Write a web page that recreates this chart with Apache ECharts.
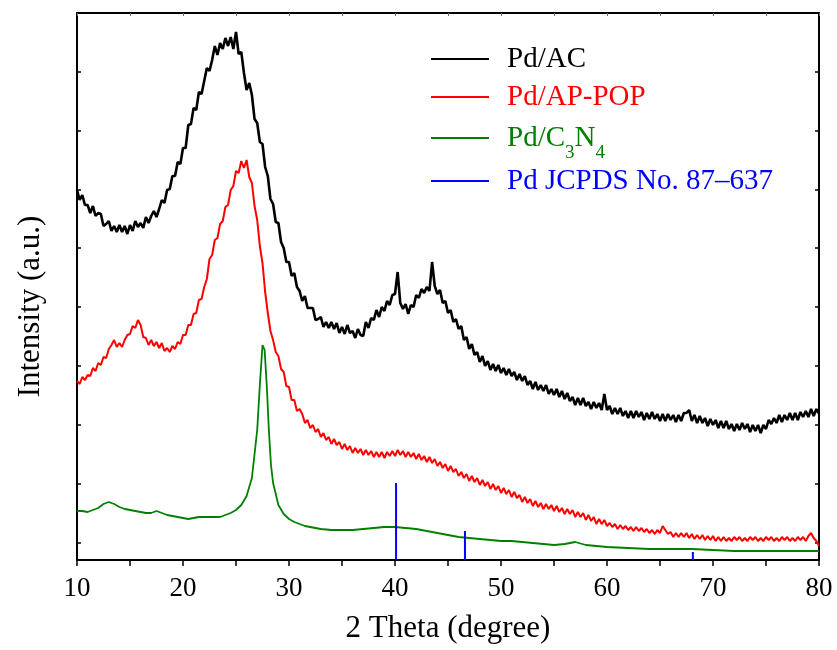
<!DOCTYPE html>
<html>
<head>
<meta charset="utf-8">
<script src="https://cdn.jsdelivr.net/npm/echarts@6/dist/echarts.min.js"></script>
<style>
  html, body { margin: 0; padding: 0; background: #fff; }
  #chart { width: 837px; height: 650px; }
</style>
</head>
<body>
<div id="chart"></div>
<script>
// XRD scans: 2 theta from 10 to 80 deg, step 0.25 deg (intensity in a.u.)
const scanStart = 10
const scanStep = 0.25

const pdAC = [
  370, 360, 365, 355, 355, 347, 354, 344, 347, 346, 334, 336, 339, 329, 334, 328,
  335, 328, 334, 326, 335, 329, 339, 333, 337, 332, 343, 337, 344, 349, 343, 351,
  360, 357, 370, 371, 384, 384, 398, 396, 412, 412, 435, 436, 452, 450, 468, 466,
  479, 492, 489, 500, 514, 505, 517, 511, 522, 514, 523, 511, 528, 506, 508, 487,
  470, 477, 465, 441, 437, 418, 416, 393, 384, 361, 356, 338, 337, 318, 312, 298,
  298, 284, 287, 273, 269, 259, 264, 252, 252, 252, 240, 241, 243, 233, 238, 232,
  238, 231, 237, 227, 233, 226, 235, 227, 229, 222, 231, 225, 224, 238, 232, 242,
  240, 250, 243, 253, 249, 259, 255, 265, 266, 288, 257, 251, 256, 246, 255, 253,
  265, 262, 271, 267, 273, 269, 298, 274, 266, 270, 257, 259, 247, 250, 238, 241,
  231, 234, 220, 223, 211, 216, 205, 208, 198, 204, 194, 199, 190, 196, 189, 195,
  187, 192, 185, 191, 184, 188, 180, 186, 179, 184, 175, 179, 171, 178, 170, 175,
  169, 175, 166, 171, 165, 171, 163, 169, 161, 167, 159, 163, 155, 162, 155, 162,
  154, 158, 151, 158, 152, 157, 150, 166, 150, 154, 146, 152, 146, 152, 144, 149,
  142, 149, 142, 149, 143, 148, 140, 147, 141, 148, 141, 146, 139, 146, 139, 146,
  140, 145, 138, 145, 139, 147, 147, 150, 139, 145, 137, 144, 137, 142, 134, 141,
  135, 140, 132, 139, 132, 139, 131, 136, 129, 136, 130, 137, 131, 136, 128, 135,
  129, 135, 127, 135, 131, 140, 136, 142, 137, 145, 138, 145, 140, 147, 140, 147,
  140, 148, 143, 149, 143, 151, 144, 151, 146
]

const pdAPPOP = [
  179, 176, 183, 180, 185, 184, 192, 189, 197, 195, 203, 202, 211, 215, 220, 213,
  217, 213, 220, 225, 226, 234, 232, 240, 235, 223, 222, 215, 220, 214, 218, 212,
  217, 209, 212, 208, 214, 211, 218, 216, 225, 225, 235, 235, 246, 247, 260, 261,
  273, 281, 301, 305, 320, 322, 336, 339, 353, 355, 370, 374, 389, 387, 399, 392,
  400, 383, 377, 354, 340, 314, 297, 268, 247, 229, 220, 208, 204, 191, 188, 174,
  173, 160, 160, 149, 151, 146, 137, 140, 132, 135, 128, 131, 123, 127, 120, 123,
  116, 121, 115, 118, 111, 116, 110, 114, 107, 112, 107, 111, 105, 110, 105, 109,
  103, 108, 103, 108, 102, 108, 104, 109, 104, 110, 105, 109, 103, 108, 103, 107,
  101, 106, 100, 104, 98, 103, 97, 101, 94, 98, 92, 96, 89, 94, 88, 91,
  84, 88, 82, 86, 79, 84, 78, 82, 75, 80, 74, 78, 71, 76, 70, 74,
  67, 72, 66, 70, 63, 68, 62, 65, 58, 63, 57, 61, 54, 59, 53, 57,
  51, 56, 51, 55, 49, 54, 48, 52, 46, 51, 46, 50, 43, 48, 43, 47,
  40, 45, 39, 43, 36, 41, 36, 40, 34, 37, 33, 36, 31, 35, 31, 34,
  30, 33, 29, 33, 29, 32, 28, 31, 27, 30, 26, 30, 27, 34, 30, 26,
  28, 23, 27, 23, 27, 23, 27, 22, 26, 21, 25, 21, 25, 20, 24, 20,
  24, 19, 23, 19, 23, 19, 22, 19, 23, 20, 23, 19, 22, 19, 23, 20,
  23, 19, 22, 19, 23, 20, 23, 19, 22, 19, 23, 20, 23, 19, 22, 19,
  23, 20, 23, 19, 24, 27, 22, 19, 14
]

// Pd/C3N4 read at uneven steps (finer around the 27.5 deg peak)
const c3n4Theta = [
  10, 10.5, 11, 11.5, 12, 12.5, 13, 13.5, 14, 14.5, 15, 15.5, 16, 16.5, 17, 17.5,
  18, 18.5, 19, 19.5, 20, 20.5, 21, 21.5, 22, 22.5, 23, 23.5, 24, 24.5, 25, 25.5,
  26, 26.5, 27, 27.25, 27.5, 27.7, 27.9, 28.1, 28.3, 28.5, 29, 29.5, 30, 30.5, 31,
  31.5, 32, 33, 34, 35, 36, 37, 38, 39, 40, 41, 42, 43, 44, 45, 46, 47, 48, 49, 50,
  51, 52, 53, 54, 55, 56, 57, 58, 59, 60, 62, 64, 66, 68, 70, 72, 74, 76, 78, 80
]
const c3n4Int = [
  49, 49, 48, 50, 52, 56, 58, 56, 53, 51, 50, 49, 48, 47, 47, 49,
  47, 45, 44, 43, 42, 41, 42, 43, 43, 43, 43, 43, 45, 47, 50, 55,
  64, 82, 130, 175, 215, 210, 175, 130, 95, 77, 55, 46, 41, 38, 36,
  34, 33, 31, 30, 30, 30, 31, 32, 33, 33, 32, 31, 29, 27, 25, 23, 22, 21, 20, 19,
  19, 18, 17, 16, 15, 16, 18, 15, 14, 13, 12, 11, 11, 11, 10, 9, 9, 9, 9, 9
]

// Pd reference pattern (JCPDS No. 87-637)
const refTheta = [40.1, 46.6, 68.1]
const refInt = [77, 29, 8]

const xTicksMin = 10
const xTicksMax = 80
const yTickValues = [17, 76, 135, 194, 253, 312, 370, 429, 488, 547]

const serif = '"Liberation Serif", "Times New Roman", serif'

const chart = echarts.init(document.getElementById('chart'))

function legendAt(name, color, top, rich) {
  return {
    data: [{ name: name, icon: 'rect' }],
    left: 431,
    top: top,
    padding: 0,
    itemWidth: 58,
    itemHeight: 2,
    selectedMode: false,
    formatter: rich ? () => '{m|Pd/C}{s|3}{m|N}{s|4}' : undefined,
    textStyle: {
      color: color,
      fontFamily: serif,
      fontSize: 29,
      lineHeight: 30,
      padding: [0, 0, 0, 13],
      rich: rich ? {
        m: { color: color, fontFamily: serif, fontSize: 29, lineHeight: 50, verticalAlign: 'middle' },
        s: { color: color, fontFamily: serif, fontSize: 19, lineHeight: 50, verticalAlign: 'bottom' }
      } : undefined
    }
  }
}

const xBase = {
  type: 'value',
  min: xTicksMin,
  max: xTicksMax,
  interval: 5,
  splitLine: { show: false },
  axisLine: { onZero: false, lineStyle: { color: '#000', width: 2 } }
}
const yBase = {
  type: 'value',
  min: 0,
  max: 547,
  splitLine: { show: false },
  axisLabel: { show: false },
  axisLine: { show: true, onZero: false, lineStyle: { color: '#000', width: 2 } },
  axisTick: { inside: true, length: 4, customValues: yTickValues, lineStyle: { color: '#000', width: 1.5 } }
}

chart.setOption({
  animation: false,
  backgroundColor: '#fff',
  grid: { left: 77, right: 18, top: 13, bottom: 90, outerBoundsMode: 'none' },
  legend: [
    legendAt('Pd/AC', '#000000', 44),
    legendAt('Pd/AP-POP', '#ff0000', 82),
    legendAt('Pd/C3N4', '#008000', 113, true),
    legendAt('Pd JCPDS No. 87–637', '#0000ff', 166)
  ],
  xAxis: [
    Object.assign({}, xBase, {
      position: 'bottom',
      name: '2 Theta (degree)',
      nameLocation: 'middle',
      nameGap: 53,
      nameTextStyle: { fontFamily: serif, fontSize: 31, color: '#000' },
      axisTick: { inside: false, length: 6, lineStyle: { color: '#000', width: 1.5 } },
      axisLabel: {
        fontFamily: serif, fontSize: 27, color: '#000', margin: 15,
        formatter: v => (v % 10 === 0 ? String(v) : '')
      }
    }),
    Object.assign({}, xBase, {
      position: 'top',
      axisTick: { inside: true, length: 3, lineStyle: { color: '#666', width: 1 } },
      axisLabel: { show: false }
    })
  ],
  yAxis: [
    Object.assign({}, yBase, {
      position: 'left',
      name: 'Intensity (a.u.)',
      nameLocation: 'middle',
      nameGap: 31,
      nameTextStyle: { fontFamily: serif, fontSize: 31, color: '#000', padding: [0, 40, 0, 0] }
    }),
    Object.assign({}, yBase, { position: 'right' })
  ],
  series: [
    {
      name: 'Pd/AC',
      type: 'line',
      symbol: 'none',
      data: pdAC.map((v, i) => [scanStart + i * scanStep, v]),
      itemStyle: { color: '#000000' },
      lineStyle: { color: '#000000', width: 2.6 }
    },
    {
      name: 'Pd/AP-POP',
      type: 'line',
      symbol: 'none',
      data: pdAPPOP.map((v, i) => [scanStart + i * scanStep, v]),
      itemStyle: { color: '#ff0000' },
      lineStyle: { color: '#ff0000', width: 2 }
    },
    {
      name: 'Pd/C3N4',
      type: 'line',
      symbol: 'none',
      data: c3n4Theta.map((t, i) => [t, c3n4Int[i]]),
      itemStyle: { color: '#008000' },
      lineStyle: { color: '#008000', width: 1.8 }
    },
    {
      name: 'Pd JCPDS No. 87–637',
      type: 'bar',
      barWidth: 2,
      z: 5,
      data: refTheta.map((t, i) => [t, refInt[i]]),
      itemStyle: { color: '#0000ff' }
    }
  ]
})
</script>
</body>
</html>
